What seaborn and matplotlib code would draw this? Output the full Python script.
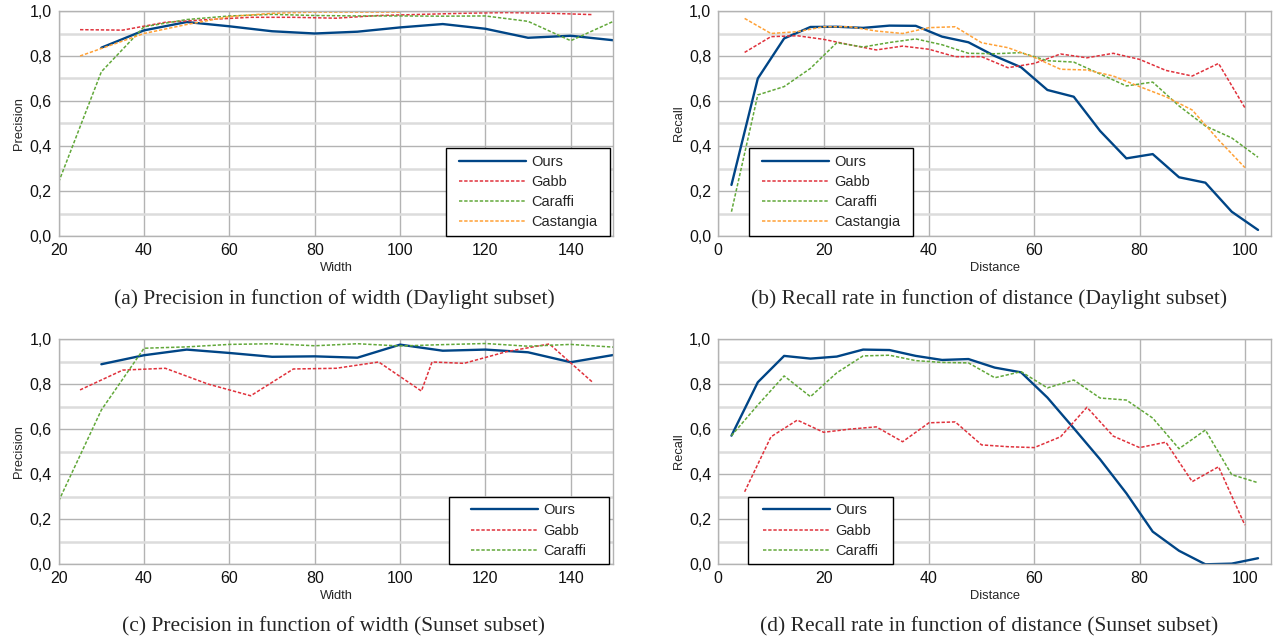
import matplotlib
matplotlib.use("Agg")
import matplotlib.pyplot as plt
import seaborn as sns
from matplotlib.ticker import FuncFormatter, MultipleLocator

# (a) precision vs width, daylight
width_a_ours = [30, 40, 50, 60, 70, 80, 90, 100, 110, 120, 130, 140, 150]
prec_a_ours = [0.837, 0.914, 0.951, 0.932, 0.910, 0.900, 0.908, 0.927, 0.942, 0.921, 0.881, 0.890, 0.870]
width_a_gabb = [25, 35, 45, 55, 65, 75, 85, 95, 105, 115, 125, 135, 145]
prec_a_gabb = [0.917, 0.915, 0.950, 0.962, 0.972, 0.972, 0.968, 0.980, 0.985, 0.990, 0.993, 0.990, 0.984]
width_a_caraffi = [20, 30, 40, 50, 60, 70, 80, 90, 100, 110, 120, 130, 140, 150]
prec_a_caraffi = [0.24, 0.73, 0.93, 0.962, 0.978, 0.985, 0.98, 0.978, 0.978, 0.977, 0.978, 0.954, 0.868, 0.954]
width_a_cast = [25, 40, 50, 60, 70, 80, 90, 100]
prec_a_cast = [0.80, 0.90, 0.94, 0.975, 0.99, 0.995, 0.995, 0.995]

# (b) recall vs distance, daylight
dist_mid = [2.5, 7.5, 12.5, 17.5, 22.5, 27.5, 32.5, 37.5, 42.5, 47.5, 52.5,
            57.5, 62.5, 67.5, 72.5, 77.5, 82.5, 87.5, 92.5, 97.5, 102.5]
dist_step = [5, 10, 15, 20, 25, 30, 35, 40, 45, 50, 55, 60, 65, 70, 75, 80, 85, 90, 95, 100]
rec_b_ours = [0.227, 0.70, 0.878, 0.929, 0.930, 0.925, 0.935, 0.934, 0.886, 0.861, 0.80,
              0.75, 0.649, 0.619, 0.467, 0.345, 0.364, 0.261, 0.237, 0.108, 0.027]
rec_b_gabb = [0.816, 0.886, 0.89, 0.874, 0.85, 0.827, 0.844, 0.83, 0.797, 0.797,
              0.748, 0.767, 0.809, 0.792, 0.812, 0.785, 0.736, 0.711, 0.767, 0.57]
rec_b_caraffi = [0.108, 0.627, 0.664, 0.745, 0.859, 0.84, 0.86, 0.876, 0.85, 0.812, 0.81,
                 0.815, 0.779, 0.773, 0.72, 0.667, 0.684, 0.578, 0.489, 0.436, 0.35]
rec_b_cast = [0.967, 0.90, 0.908, 0.93, 0.93, 0.911, 0.90, 0.926, 0.93, 0.859,
              0.837, 0.794, 0.741, 0.738, 0.711, 0.664, 0.619, 0.56, 0.427, 0.304]

# (c) precision vs width, sunset
width_c_ours = [30, 40, 50, 60, 70, 80, 90, 100, 110, 120, 130, 140, 150]
prec_c_ours = [0.888, 0.928, 0.953, 0.938, 0.921, 0.923, 0.917, 0.975, 0.948, 0.953, 0.941, 0.897, 0.929]
width_c_gabb = [25, 35, 45, 55, 65, 75, 85, 95, 105, 107.5, 115, 125, 135, 145]
prec_c_gabb = [0.774, 0.862, 0.870, 0.800, 0.748, 0.867, 0.870, 0.898, 0.769, 0.898, 0.892, 0.944, 0.978, 0.81]
width_c_caraffi = [20, 30, 40, 50, 60, 70, 80, 90, 100, 110, 120, 130, 140, 150]
prec_c_caraffi = [0.281, 0.685, 0.959, 0.965, 0.976, 0.979, 0.97, 0.979, 0.969, 0.975, 0.98, 0.968, 0.976, 0.964]

# (d) recall vs distance, sunset
rec_d_ours = [0.571, 0.808, 0.925, 0.913, 0.922, 0.953, 0.951, 0.925, 0.907, 0.911, 0.873,
              0.852, 0.74, 0.604, 0.466, 0.315, 0.145, 0.06, 0.0, 0.003, 0.027]
rec_d_gabb = [0.322, 0.566, 0.64, 0.586, 0.6, 0.61, 0.544, 0.628, 0.632, 0.53,
              0.522, 0.518, 0.566, 0.697, 0.569, 0.518, 0.542, 0.367, 0.433, 0.174]
rec_d_caraffi = [0.571, 0.707, 0.836, 0.744, 0.85, 0.925, 0.928, 0.904, 0.896, 0.894, 0.828,
                 0.855, 0.783, 0.818, 0.738, 0.729, 0.649, 0.513, 0.596, 0.398, 0.362]

BLUE = "#004586"
RED = "#e0323c"
GREEN = "#62a83a"
ORANGE = "#ffa136"
DOT = (0, (2.2, 1.2))

sns.set_style("white")
plt.rcParams["font.family"] = ["Liberation Sans", "DejaVu Sans"]

fig = plt.figure(figsize=(12.73, 6.42), dpi=100)

W = 1273.0
H = 642.0


def make_axes(left, right, top, bottom):
    return fig.add_axes([left / W, 1 - bottom / H, (right - left) / W, (bottom - top) / H])


def style(ax, xlim, xstep, ylabel, xlabel):
    ax.set_xlim(*xlim)
    ax.set_ylim(0, 1)
    ax.xaxis.set_major_locator(MultipleLocator(xstep))
    ax.yaxis.set_major_locator(MultipleLocator(0.2))
    ax.yaxis.set_minor_locator(MultipleLocator(0.1))
    ax.yaxis.set_major_formatter(FuncFormatter(lambda v, p: f"{v:.1f}".replace(".", ",")))
    ax.grid(which="major", axis="both", color="#b3b3b3", lw=1.0)
    ax.grid(which="minor", axis="y", color="#dcdcdc", lw=1.8)
    ax.set_axisbelow(True)
    for s in ax.spines.values():
        s.set_color("#b3b3b3")
        s.set_linewidth(1.0)
    ax.tick_params(which="major", length=3, color="#b3b3b3", labelsize=11.5,
                   labelcolor="#111111", pad=2)
    ax.tick_params(which="minor", length=0)
    ax.set_ylabel(ylabel, fontsize=9.3, labelpad=3)
    ax.set_xlabel(xlabel, fontsize=9.3, labelpad=3)


def draw(ax, series):
    for xs, ys, col, ls, lw, lab in series:
        sns.lineplot(x=xs, y=ys, ax=ax, color=col, linestyle=ls, lw=lw, label=lab)


def legend(ax, loc, anchor, side_pad):
    leg = ax.legend(loc=loc, bbox_to_anchor=anchor, fontsize=10.5, frameon=True,
                    fancybox=False, framealpha=1, edgecolor="black",
                    handlelength=4.6, handletextpad=0.35, labelspacing=0.42,
                    borderpad=0.45, borderaxespad=0)
    frame = leg.get_frame()
    frame.set_linewidth(1.0)
    # wider side padding than top/bottom padding
    frame.set_boxstyle("square", pad=side_pad)
    frame.set_mutation_aspect(0.01)


ax_a = make_axes(58.7, 613.4, 11, 236)
draw(ax_a, [
    (width_a_ours, prec_a_ours, BLUE, "-", 1.7, "Ours"),
    (width_a_gabb, prec_a_gabb, RED, DOT, 1.1, "Gabb"),
    (width_a_caraffi, prec_a_caraffi, GREEN, DOT, 1.1, "Caraffi"),
    (width_a_cast, prec_a_cast, ORANGE, DOT, 1.1, "Castangia"),
])
style(ax_a, (20, 150), 20, "Precision", "Width")
legend(ax_a, "lower right", (0.983, 0.0), 0.42)

ax_b = make_axes(718.3, 1271.2, 11, 236)
draw(ax_b, [
    (dist_mid, rec_b_ours, BLUE, "-", 1.7, "Ours"),
    (dist_step, rec_b_gabb, RED, DOT, 1.1, "Gabb"),
    (dist_mid, rec_b_caraffi, GREEN, DOT, 1.1, "Caraffi"),
    (dist_step, rec_b_cast, ORANGE, DOT, 1.1, "Castangia"),
])
style(ax_b, (0, 105), 20, "Recall", "Distance")
legend(ax_b, "lower left", (0.0664, 0.0), 0.42)

ax_c = make_axes(58.7, 613.4, 339, 564.3)
draw(ax_c, [
    (width_c_ours, prec_c_ours, BLUE, "-", 1.7, "Ours"),
    (width_c_gabb, prec_c_gabb, RED, DOT, 1.1, "Gabb"),
    (width_c_caraffi, prec_c_caraffi, GREEN, DOT, 1.1, "Caraffi"),
])
style(ax_c, (20, 150), 20, "Precision", "Width")
legend(ax_c, "lower right", (0.9632, 0.0), 1.1)

ax_d = make_axes(718.3, 1271.2, 339, 564.3)
draw(ax_d, [
    (dist_mid, rec_d_ours, BLUE, "-", 1.7, "Ours"),
    (dist_step, rec_d_gabb, RED, DOT, 1.1, "Gabb"),
    (dist_mid, rec_d_caraffi, GREEN, DOT, 1.1, "Caraffi"),
])
style(ax_d, (0, 105), 20, "Recall", "Distance")
legend(ax_d, "lower left", (0.0687, 0.0), 0.55)

captions = [
    (334, 299, "(a) Precision in function of width (Daylight subset)"),
    (989, 299, "(b) Recall rate in function of distance (Daylight subset)"),
    (334, 627, "(c) Precision in function of width (Sunset subset)"),
    (989, 627, "(d) Recall rate in function of distance (Sunset subset)"),
]
for cx, cy, txt in captions:
    fig.text(cx / W, 1 - cy / H, txt, ha="center", va="center", fontsize=15.5,
             family=["Liberation Serif", "DejaVu Serif"])

fig.savefig("out.png", dpi=100)
